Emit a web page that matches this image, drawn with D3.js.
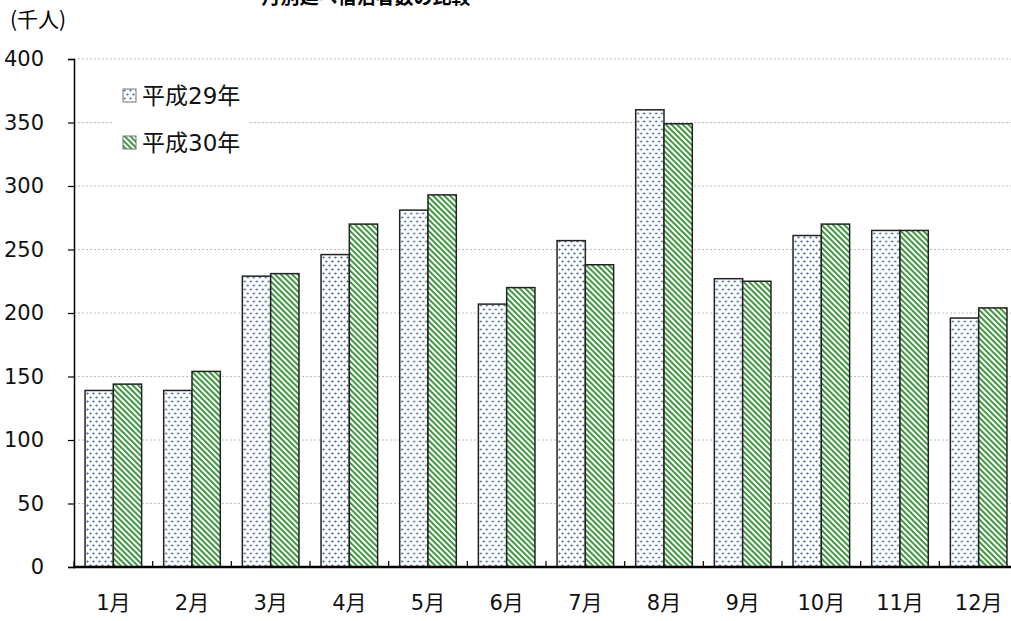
<!DOCTYPE html>
<html lang="ja">
  <head>
    <meta charset="UTF-8" />
    <title>月別延べ宿泊者数の比較</title>
    <style>
      body {
        margin: 0;
        background: #fff;
      }
      text {
        font-family: "DejaVu Sans", "Noto Sans CJK JP", sans-serif;
      }
      .grid line {
        stroke: #bdbdbd;
        stroke-width: 1;
        stroke-dasharray: 2, 2;
      }
      .bar {
        stroke: #222;
        stroke-width: 1.5;
      }
    </style>
  </head>
  <body>
    <svg width="1011" height="621"></svg>
    <script src="https://cdnjs.cloudflare.com/ajax/libs/d3/7.8.5/d3.min.js"></script>
    <script>
      // データ（千人）
      const months = ["1月", "2月", "3月", "4月", "5月", "6月", "7月", "8月", "9月", "10月", "11月", "12月"];
      const seriesNames = ["平成29年", "平成30年"];
      const h29 = [139, 139, 229, 246, 281, 207, 257, 360, 227, 261, 265, 196];
      const h30 = [144, 154, 231, 270, 293, 220, 238, 349, 225, 270, 265, 204];
      const yTicks = [0, 50, 100, 150, 200, 250, 300, 350, 400];

      const svg = d3.select("svg");
      const defs = svg.append("defs");

      // 点の模様
      const dots = defs.append("pattern")
        .attr("id", "dots")
        .attr("width", 6)
        .attr("height", 8)
        .attr("patternUnits", "userSpaceOnUse");
      dots.append("rect").attr("width", 6).attr("height", 8).attr("fill", "#fff");
      dots.append("circle").attr("cx", 1.5).attr("cy", 1.5).attr("r", 1.1).attr("fill", "#3f6598");
      dots.append("circle").attr("cx", 4.5).attr("cy", 5.5).attr("r", 1.1).attr("fill", "#3f6598");

      // 斜線の模様
      const stripes = defs.append("pattern")
        .attr("id", "stripes")
        .attr("width", 4)
        .attr("height", 4)
        .attr("patternUnits", "userSpaceOnUse")
        .attr("patternTransform", "rotate(-45)");
      stripes.append("rect").attr("width", 4).attr("height", 4).attr("fill", "#fff");
      stripes.append("rect").attr("width", 2).attr("height", 4).attr("fill", "#3f9a3f");

      const fills = ["url(#dots)", "url(#stripes)"];

      const mLeft = 74, mRight = 1018, mTop = 59, mBottom = 567;

      const x0 = d3.scaleBand().domain(months).range([mLeft, mRight]).padding(0);
      const x1 = d3.scaleBand().domain(seriesNames).range([0, x0.bandwidth()])
        .paddingInner(0).paddingOuter(0.39);
      const y = d3.scaleLinear().domain([0, 400]).range([mBottom, mTop]);

      // タイトル（上が切れている）
      svg.append("text")
        .attr("x", 366)
        .attr("y", 4)
        .attr("text-anchor", "middle")
        .attr("font-size", 19)
        .attr("font-weight", "bold")
        .style("font-family", "'Noto Sans CJK JP'")
        .text("月別延べ宿泊者数の比較");

      svg.append("text")
        .attr("x", 10)
        .attr("y", 27)
        .attr("font-size", 21)
        .style("font-family", "'Noto Sans CJK JP'")
        .text("(千人)");

      // グリッド線
      svg.append("g")
        .attr("class", "grid")
        .selectAll("line")
        .data(yTicks.filter((d) => d > 0))
        .join("line")
        .attr("x1", mLeft)
        .attr("x2", mRight)
        .attr("y1", (d) => y(d))
        .attr("y2", (d) => y(d));

      // 棒
      const groups = svg.append("g")
        .selectAll("g")
        .data(months)
        .join("g")
        .attr("transform", (d) => `translate(${x0(d)},0)`);

      groups.selectAll("rect")
        .data((d, i) => [
          { key: seriesNames[0], value: h29[i], s: 0 },
          { key: seriesNames[1], value: h30[i], s: 1 },
        ])
        .join("rect")
        .attr("class", "bar")
        .attr("x", (d) => x1(d.key))
        .attr("width", x1.bandwidth())
        .attr("y", (d) => y(d.value))
        .attr("height", (d) => y(0) - y(d.value))
        .attr("fill", (d) => fills[d.s]);

      // Y軸
      const yAxis = svg.append("g")
        .attr("transform", `translate(${mLeft},0)`)
        .call(d3.axisLeft(y).tickValues(yTicks).tickSize(6).tickPadding(24));
      yAxis.select(".domain").attr("stroke", "#000").attr("stroke-width", 1.5);
      yAxis.selectAll(".tick line").attr("stroke", "#000").attr("stroke-width", 1.2);
      yAxis.selectAll("text").attr("font-size", 21).attr("fill", "#111");

      // X軸
      const xAxis = svg.append("g")
        .attr("transform", `translate(0,${mBottom})`)
        .call(d3.axisBottom(x0).tickSize(0).tickPadding(28));
      xAxis.select(".domain").remove();
      xAxis.selectAll("text").attr("font-size", 21).attr("fill", "#111");

      svg.append("g")
        .selectAll("line")
        .data(months)
        .join("line")
        .attr("x1", (d) => x0(d))
        .attr("x2", (d) => x0(d))
        .attr("y1", mBottom)
        .attr("y2", mBottom - 6)
        .attr("stroke", "#000")
        .attr("stroke-width", 1.2);

      svg.append("line")
        .attr("x1", mLeft - 1)
        .attr("x2", mRight)
        .attr("y1", mBottom)
        .attr("y2", mBottom)
        .attr("stroke", "#000")
        .attr("stroke-width", 2.5);

      // 凡例
      const legend = svg.append("g");
      legend.append("rect")
        .attr("x", 112)
        .attr("y", 74)
        .attr("width", 138)
        .attr("height", 92)
        .attr("fill", "#fff");
      const items = legend.selectAll("g.item")
        .data(seriesNames)
        .join("g")
        .attr("class", "item")
        .attr("transform", (d, i) => `translate(123,${89 + i * 47})`);
      items.append("rect")
        .attr("width", 13)
        .attr("height", 13)
        .attr("fill", (d, i) => fills[i])
        .attr("stroke", "#777")
        .attr("stroke-width", 1);
      items.append("text")
        .attr("x", 19)
        .attr("y", 6.5)
        .attr("dy", "0.36em")
        .attr("font-size", 23)
        .attr("fill", "#111")
        .text((d) => d);
    </script>
  </body>
</html>
